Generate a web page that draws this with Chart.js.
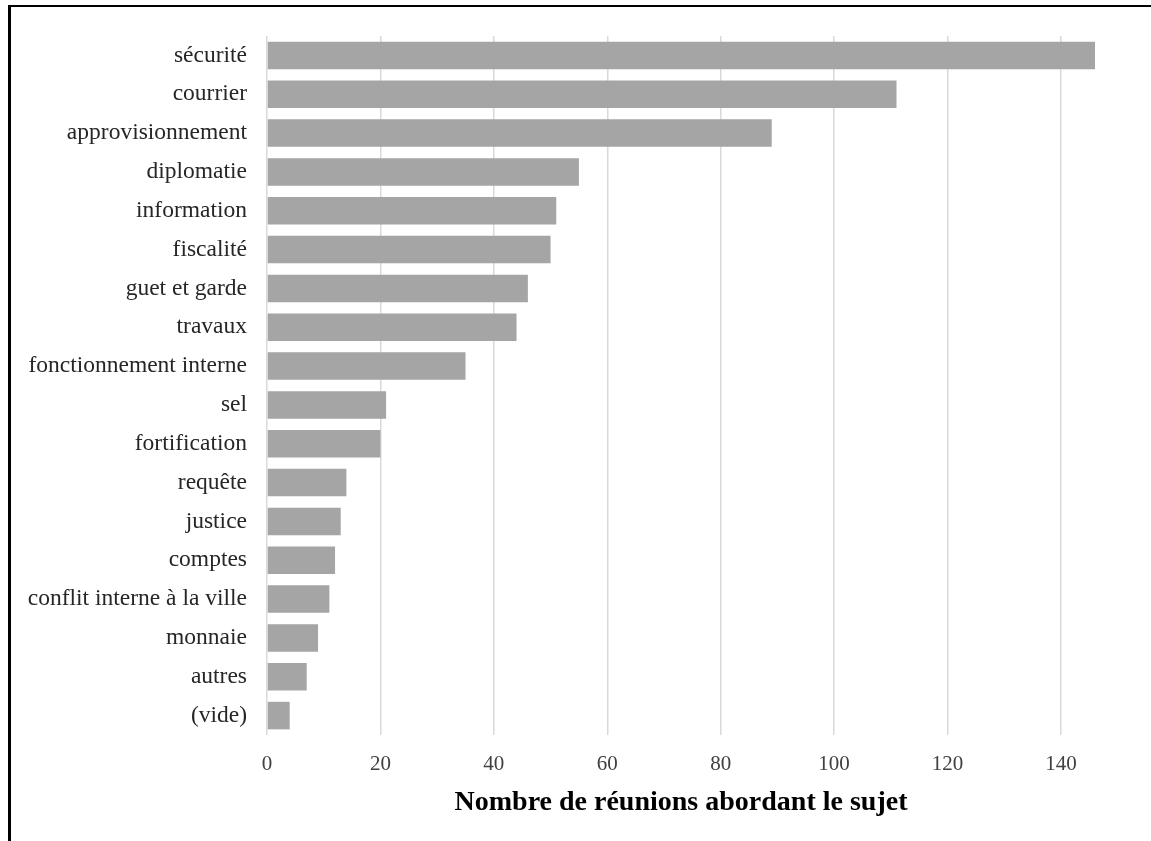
<!DOCTYPE html>
<html>
<head>
<meta charset="utf-8">
<script src="https://cdn.jsdelivr.net/npm/chart.js@4"></script>
<style>
  html, body { margin: 0; padding: 0; background: #fff; overflow: hidden; }
  #cadre { position: absolute; left: 8px; top: 5px; width: 1300px; height: 1000px;
           border-top: 2px solid #000; border-left: 3px solid #000; }
  #boite { position: absolute; left: 0; top: 0; width: 1151px; height: 841px; }
</style>
</head>
<body>
<div id="cadre"></div>
<div id="boite"><canvas id="grafica"></canvas></div>
<script>
const sujets = ['sécurité', 'courrier', 'approvisionnement', 'diplomatie', 'information',
    'fiscalité', 'guet et garde', 'travaux', 'fonctionnement interne', 'sel',
    'fortification', 'requête', 'justice', 'comptes', 'conflit interne à la ville',
    'monnaie', 'autres', '(vide)'];
const reunions = [146, 111, 89, 55, 51, 50, 46, 44, 35, 21, 20, 14, 13, 12, 11, 9, 7, 4];
const xMax = 146;
const xPas = 20;
const xTicks = [0, 20, 40, 60, 80, 100, 120, 140];
const titreX = 'Nombre de réunions abordant le sujet';

const police = 'Liberation Serif';

const databa = {
    labels: sujets,
    datasets: [{
        data: reunions,
        backgroundColor: '#a5a5a5',
        borderWidth: 0,
        barPercentage: 0.71,
        categoryPercentage: 1
    }]
};

let cfg = {
    type: 'bar',
    data: databa,
    options: {
        indexAxis: 'y',
        responsive: false,
        animation: false,
        layout: {padding: {top: 36, right: 56, bottom: 24, left: 0}},
        plugins: {legend: {display: false}, tooltip: {enabled: false}},
        scales: {
            x: {
                min: 0,
                max: xMax,
                ticks: {stepSize: xPas, padding: 19, color: '#404040',
                    font: {family: police, size: 21, lineHeight: 1}},
                afterBuildTicks: s => { s.ticks = xTicks.map(v => ({value: v})); },
                grid: {color: '#d9d9d9', lineWidth: 1.5, drawTicks: false},
                border: {display: false},
                title: {display: true, text: titreX, color: '#000',
                    font: {family: police, size: 28, weight: 'bold', lineHeight: 1},
                    padding: {top: -5, bottom: 0}}
            },
            y: {
                ticks: {padding: 12, color: '#262626', font: {family: police, size: 23.5}},
                afterFit: s => { s.width = 267; },
                grid: {display: false},
                border: {display: false}
            }
        }
    }
};

const cv = document.getElementById('grafica');
cv.width = 1151;
cv.height = 841;
let myChart = new Chart(cv, cfg);
</script>
</body>
</html>
